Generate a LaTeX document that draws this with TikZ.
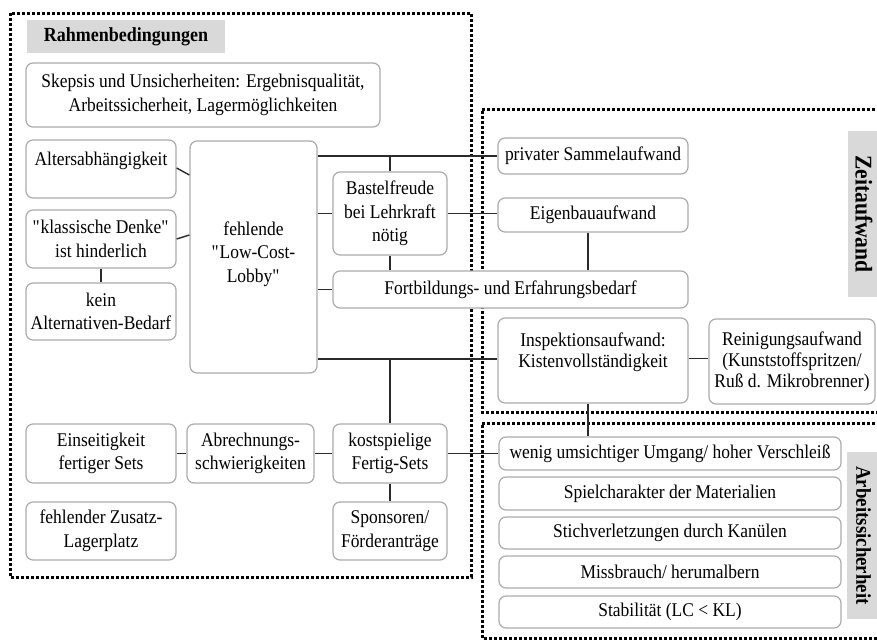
\documentclass[tikz,border=0pt]{standalone}
\usepackage{fontspec}
\setmainfont{Liberation Serif}[FakeStretch=0.9]
\newcommand\dgbody{\fontsize{19.4}{23.5}\selectfont}
\newcommand\dgtight{\fontsize{19.4}{21}\selectfont}
\definecolor{boxgray}{HTML}{ABABAB}
\definecolor{labelgray}{HTML}{D9D9D9}
\definecolor{linedark}{HTML}{2A2A2A}
\begin{document}
\begin{tikzpicture}[x=1pt,y=-1pt,
  box/.style={draw=boxgray, line width=1.2pt, rounded corners=7pt, fill=white,
    inner sep=0pt, align=center, font=\dgbody},
  toptext/.style={anchor=north, inner sep=0pt, align=center, font=\dgbody},
  heading/.style={fill=labelgray, inner sep=0pt, font=\bfseries\fontsize{20}{24}\selectfont},
  conn/.style={draw=linedark, line width=1.4pt},
  frame/.style={draw=black, line width=3pt, dash pattern=on 3pt off 2pt}]
\useasboundingbox (0,0) rectangle (877,640);

% dotted group frames
\draw[frame] (10,13) rectangle (471,577);
\draw[frame] (895,109) -- (482,109) -- (482,412) -- (895,412);
\draw[frame] (895,423) -- (482,423) -- (482,638) -- (895,638);

% group headings
\node[heading, minimum width=198pt, minimum height=33pt] (rahmen) at (126,36.5) {Rahmenbedingungen};
\node[heading, rotate=-90, minimum width=166pt, minimum height=32pt,
  font=\bfseries\fontsize{24}{28}\selectfont] (zeit) at (864,214) {Zeitaufwand};
\node[heading, rotate=-90, minimum width=167pt, minimum height=33pt,
  font=\bfseries\fontsize{21}{25}\selectfont] (arbeit) at (863.5,535.5) {Arbeitssicherheit};

% boxes
\node[box, minimum width=354pt, minimum height=64pt] (skepsis) at (203,95)
  {Skepsis und Unsicherheiten: Ergebnisqualität,\\Arbeitssicherheit, Lagermöglichkeiten};
\node[box, minimum width=150pt, minimum height=58pt,
  label={[toptext, yshift=-12pt]north:Altersabhängigkeit}] (alters) at (101,169) {};
\node[box, minimum width=150pt, minimum height=58pt] (klassisch) at (101,239)
  {\textquotedbl klassische Denke\textquotedbl\\ist hinderlich};
\node[box, minimum width=150pt, minimum height=57pt] (kein) at (101,311.5)
  {kein\\Alternativen-Bedarf};
\node[box, minimum width=127pt, minimum height=232pt,
  text depth=10pt] (lobby) at (253.5,257)
  {fehlende\\\textquotedbl Low-Cost-\\Lobby\textquotedbl};
\node[box, minimum width=114pt, minimum height=83pt] (bastel) at (390,213.5)
  {Bastelfreude\\bei Lehrkraft\\nötig};
\node[box, minimum width=190pt, minimum height=36pt] (privat) at (593,156)
  {privater Sammelaufwand};
\node[box, minimum width=190pt, minimum height=34pt] (eigen) at (593,215)
  {Eigenbauaufwand};
\node[box, minimum width=355pt, minimum height=37pt] (fortb) at (510.5,289.5)
  {Fortbildungs- und Erfahrungsbedarf};
\node[box, minimum width=190pt, minimum height=85pt,
  label={[toptext, font=\dgtight, yshift=-15pt]north:{Inspektionsaufwand:\\Kistenvollständigkeit}}]
  (insp) at (593,360.5) {};
\node[box, minimum width=166pt, minimum height=85pt, font=\dgtight] (rein) at (792,361.5)
  {Reinigungsaufwand\\(Kunststoffspritzen/\\Ruß d. Mikrobrenner)};
\node[box, minimum width=150pt, minimum height=59pt] (einseit) at (101,453.5)
  {Einseitigkeit\\fertiger Sets};
\node[box, minimum width=127pt, minimum height=59pt] (abrech) at (250.5,453.5)
  {Abrechnungs-\\schwierigkeiten};
\node[box, minimum width=114pt, minimum height=59pt] (kost) at (390,453.5)
  {kostspielige\\Fertig-Sets};
\node[box, minimum width=150pt, minimum height=58pt] (zusatz) at (101,531)
  {fehlender Zusatz-\\Lagerplatz};
\node[box, minimum width=114pt, minimum height=58pt] (sponsor) at (390,531)
  {Sponsoren/\\Förderanträge};
\node[box, minimum width=342pt, minimum height=33pt] (wenig) at (670,453.5)
  {wenig umsichtiger Umgang/ hoher Verschleiß};
\node[box, minimum width=342pt, minimum height=33pt] (spiel) at (670,493.5)
  {Spielcharakter der Materialien};
\node[box, minimum width=342pt, minimum height=32pt] (stich) at (670,533)
  {Stichverletzungen durch Kanülen};
\node[box, minimum width=342pt, minimum height=32pt] (miss) at (670,572)
  {Missbrauch/ herumalbern};
\node[box, minimum width=342pt, minimum height=32pt] (stab) at (670,612)
  {Stabilität (LC < KL)};

% connectors
\draw[conn] (lobby.east |- privat.west) -- (privat.west);
\draw[conn] (bastel.north) -- (bastel.north |- privat.west);
\draw[conn] (lobby.east |- bastel.west) -- (bastel.west);
\draw[conn] (bastel.east) -- (bastel.east -| eigen.west);
\draw[conn] (bastel.south) -- (bastel.south |- fortb.north);
\draw[conn] (lobby.east |- fortb.west) -- (fortb.west);
\draw[conn] ([xshift=-5pt]eigen.south) -- ([xshift=-5pt]eigen.south |- fortb.north);
\draw[conn] ([yshift=1.5pt]lobby.east |- insp.west) -- ([yshift=1.5pt]insp.west);
\draw[conn] (kost.north) -- ([yshift=1.5pt]kost.north |- insp.west);
\draw[conn] ([yshift=2pt]insp.east) -- ([yshift=2pt]insp.east -| rein.west);
\draw[conn] ([xshift=-5pt]insp.south) -- ([xshift=-5pt]insp.south |- wenig.north);
\draw[conn] (einseit.east) -- (abrech.west);
\draw[conn] (abrech.east) -- (kost.west);
\draw[conn] (kost.east) -- (kost.east -| wenig.west);
\draw[conn] (kost.south) -- (sponsor.north);
\draw[conn] (klassisch.south) -- (kein.north);
\draw[conn] ([yshift=1pt]alters.east) -- ([yshift=-6pt]alters.east -| lobby.west);
\draw[conn] (klassisch.east) -- ([yshift=4pt]klassisch.east -| lobby.west);
\end{tikzpicture}
\end{document}
